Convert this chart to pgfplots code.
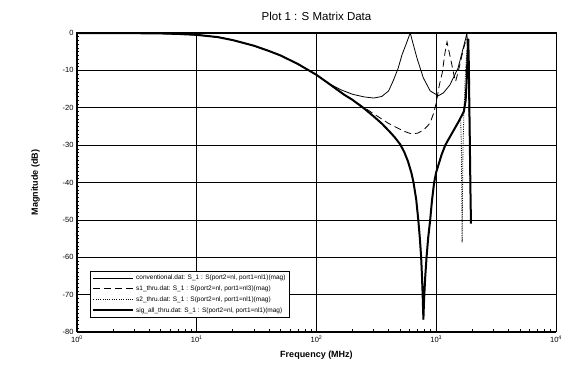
\documentclass[border=0pt]{standalone}
\usepackage{pgfplots}
\pgfplotsset{compat=1.18}
\usepackage{fontspec}
\setmainfont{Liberation Sans}
\begin{document}
\begin{tikzpicture}
\begin{axis}[
  scale only axis,
  width=479pt, height=299pt,
  xmode=log,
  xmin=1, xmax=10000, ymin=-80, ymax=0,
  xtick={1,10,100,1000,10000},
  xticklabels={10\textsuperscript{0},10\textsuperscript{1},10\textsuperscript{2},10\textsuperscript{3},10\textsuperscript{4}},
  ytick={0,-10,-20,-30,-40,-50,-60,-70,-80},
  minor y tick num=9,
  tick pos=left,
  tick align=inside,
  major tick length=4pt, minor tick length=2.5pt,
  every tick/.style={black, line width=0.6pt},
  grid=major,
  major grid style={black, line width=0.7pt},
  axis line style={black, line width=1pt},
  /pgf/number format/assume math mode=true,
  ticklabel style={font=\fontsize{7.5}{9}\selectfont},
  title={Plot 1 : S Matrix Data},
  title style={font=\fontsize{11.5}{13}\selectfont, yshift=3pt},
  xlabel={\textbf{Frequency (MHz)}},
  ylabel={\textbf{Magnitude (dB)}},
  xlabel style={font=\fontsize{9}{11}\selectfont, yshift=-2pt},
  ylabel style={font=\fontsize{9}{11}\selectfont, yshift=16pt},
  legend style={at={(0.027,0.047)}, anchor=south west, font=\fontsize{6.5}{7.5}\selectfont,
    draw=black, line width=0.8pt, fill=white, row sep=0.6pt, inner sep=2pt},
  legend cell align=left,
  legend image code/.code={\draw[#1] (0cm,0cm) -- (1.4cm,0cm);},
]
\coordinate (bl) at (rel axis cs:0,0);
\coordinate (tr) at (rel axis cs:1,1);
% conventional (thin solid)
\addplot[black, line width=0.8pt] coordinates {
(1,0)(2,-0.02)(3,-0.05)(5,-0.12)(7,-0.25)(10,-0.5)(15,-1.1)(20,-1.9)(30,-3.4)(40,-4.8)(50,-6.0)(70,-8.3)(100,-11.2)(130,-13.7)
(160,-15.2)(200,-16.4)(250,-17.1)(300,-17.4)(350,-17.0)(400,-15.5)(437,-12.8)(480,-9.5)(518,-5.8)(560,-3.0)(590,-1.0)(607,0)
(625,-1.6)(650,-3.6)(690,-6.7)(780,-12)(890,-15.5)(1040,-16.8)(1150,-16.0)(1300,-13.9)(1520,-9.4)(1680,-4.0)(1760,-1.5)(1800,0)
(1830,-3)(1860,-10)(1900,-24)(1930,-32)};
\addlegendentry{conventional.dat: S\_1 : S(port2=nl, port1=nl1)(mag)}
% s1_thru (dashed)
\addplot[black, line width=0.8pt, dash pattern=on 7pt off 4pt] coordinates {
(1,0)(2,-0.02)(3,-0.05)(5,-0.12)(7,-0.25)(10,-0.5)(15,-1.1)(20,-1.9)(30,-3.4)(40,-4.8)(50,-6.0)(70,-8.3)(100,-11.2)(130,-13.8)
(170,-16.4)(200,-17.8)(240,-19.6)(266,-20.5)(300,-21.6)(400,-24.2)(473,-25.4)(550,-26.4)(620,-27)(700,-26.8)(780,-26)(850,-24.8)
(890,-24)(950,-21.5)(1000,-18.7)(1060,-14)(1122,-10.7)(1180,-5.5)(1230,-2.4)(1280,-5)(1340,-8)(1400,-11)(1450,-13)(1520,-10.5)
(1600,-7.5)(1680,-4.5)(1750,-2.5)(1800,-1.5)(1840,-6)(1880,-20)(1920,-36)};
\addlegendentry{s1\_thru.dat: S\_1 : S(port2=nl, port1=nl3)(mag)}
% s2_thru (dotted)
\addplot[black, line width=0.8pt, dash pattern=on 1pt off 1.3pt] coordinates {
(1,0)(2,-0.02)(3,-0.05)(5,-0.12)(7,-0.25)(10,-0.5)(15,-1.1)(20,-1.9)(30,-3.4)(40,-4.8)(50,-6.0)(70,-8.3)(100,-11.2)(130,-13.8)
(170,-16.5)(200,-17.9)(250,-20.2)(300,-22.3)(350,-24.2)(400,-26.1)(450,-27.9)(500,-29.8)(540,-31.8)(580,-34.3)(620,-37.4)(646,-40)(680,-44.5)
(708,-50)(730,-55)(748,-60)(760,-65)(770,-70)(777,-74)(781,-76.7)(786,-74)(795,-70)(810,-65)(830,-60)(855,-55)(890,-50)
(920,-45)(960,-40)(1000,-37.2)(1050,-35)(1110,-32.5)(1190,-30)(1300,-27.8)(1400,-26)(1550,-23.5)(1600,-23.5)(1620,-30)(1635,-45)(1645,-56)(1655,-45)(1670,-32)
(1700,-22)(1740,-13)(1790,-6)(1840,-2.5)(1870,-10)(1900,-28)(1920,-40)};
\addlegendentry{s2\_thru.dat: S\_1 : S(port2=nl, port1=nl1)(mag)}
% sig_all_thru (thick)
\addplot[black, line width=2pt] coordinates {
(1,0)(2,-0.02)(3,-0.05)(5,-0.12)(7,-0.25)(10,-0.5)(15,-1.1)(20,-1.9)(30,-3.4)(40,-4.8)(50,-6.0)(70,-8.3)(100,-11.2)(130,-13.8)
(170,-16.5)(200,-17.9)(250,-20.2)(300,-22.3)(350,-24.2)(400,-26.1)(450,-27.9)(500,-29.8)(540,-31.8)(580,-34.3)(620,-37.4)(646,-40)(680,-44.5)
(708,-50)(730,-55)(748,-60)(760,-65)(770,-70)(777,-74)(781,-76.7)(786,-74)(795,-70)(810,-65)(830,-60)(855,-55)(890,-50)
(920,-45)(960,-40)(1000,-37.2)(1050,-35)(1110,-32.5)(1190,-30)(1300,-27.8)(1400,-26)(1550,-23.5)(1700,-21)(1760,-18)(1800,-12)(1830,-5)(1850,-1.5)(1870,-8)
(1900,-25)(1930,-42)(1950,-51)};
\addlegendentry{sig\_all\_thru.dat: S\_1 : S(port2=nl, port1=nl1)(mag)}
\end{axis}
\pgfresetboundingbox
\path[use as bounding box] ([shift={(-77pt,-40pt)}]bl) rectangle ([shift={(13pt,33pt)}]tr);
\end{tikzpicture}
\end{document}
